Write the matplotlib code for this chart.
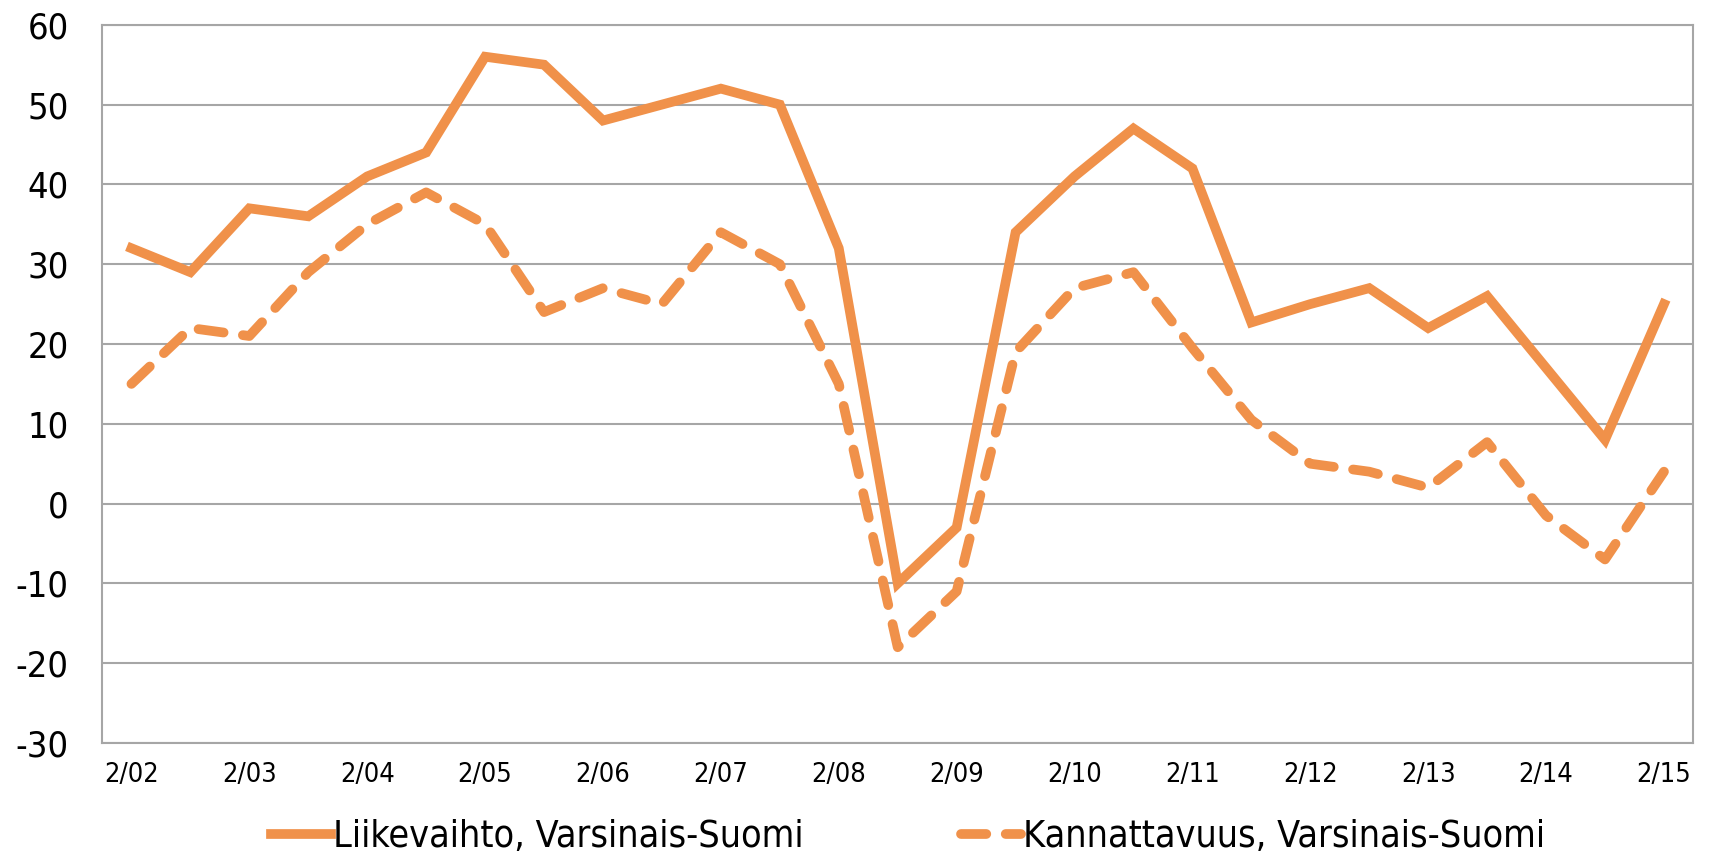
import matplotlib
matplotlib.use("Agg")
import matplotlib.pyplot as plt
from matplotlib import font_manager

# half-year observations 2/02 ... 2/15
periods = ["2/02", "8/02", "2/03", "8/03", "2/04", "8/04", "2/05", "8/05",
           "2/06", "8/06", "2/07", "8/07", "2/08", "8/08", "2/09", "8/09",
           "2/10", "8/10", "2/11", "8/11", "2/12", "8/12", "2/13", "8/13",
           "2/14", "8/14", "2/15"]
liikevaihto = [32, 29, 37, 36, 41, 44, 56, 55, 48, 50, 52, 50, 32, -10, -3, 34,
               41, 47, 42, 22.7, 25, 27, 22, 26, 17, 8, 25]
kannattavuus = [15, 22, 21, 29, 35, 39, 35, 24, 27, 25, 34, 30, 15, -18, -11, 19,
                27, 29, 19.5, 10.5, 5, 4, 2, 7.7, -1.5, -7, 4]
yticks = [-30, -20, -10, 0, 10, 20, 30, 40, 50, 60]

# narrow font if one is there
cond = [f for f in font_manager.fontManager.ttflist if 'ondensed' in f.fname or 'Narrow' in f.name]
plt.rcParams['font.family'] = ['DejaVu Sans']
if cond:
    plt.rcParams['font.stretch'] = 'condensed'

orange = "#F0914A"
grid_col = "#A6A6A6"

fig = plt.figure(figsize=(17.14, 8.55), dpi=100)
ax = fig.add_axes([0.0595, 0.131, 0.9285, 0.84])

x = list(range(len(periods)))
ax.plot(x, liikevaihto, color=orange, lw=7, solid_joinstyle='miter',
        label="Liikevaihto, Varsinais-Suomi")
ax.plot(x, kannattavuus, color=orange, lw=7, dashes=(2.6, 2.0), dash_capstyle='round',
        label="Kannattavuus, Varsinais-Suomi")

ax.set_xlim(-0.5, len(periods) - 0.5)
ax.set_ylim(-30, 60)
ax.set_yticks(yticks)
ax.set_yticklabels([str(v) for v in yticks], fontsize=26)
ax.set_xticks(x[::2])
ax.set_xticklabels(periods[::2], fontsize=19.5)
ax.tick_params(axis='both', length=0)
ax.tick_params(axis='y', pad=24)
ax.tick_params(axis='x', pad=14)
ax.grid(axis='y', color=grid_col, lw=1.5)
ax.set_axisbelow(True)
for s in ax.spines.values():
    s.set_color(grid_col)
    s.set_linewidth(1.5)

fig.legend(loc='lower center', ncol=2, frameon=False, fontsize=27,
           handlelength=1.6, handletextpad=0.05, columnspacing=4.2,
           bbox_to_anchor=(0.53, -0.04))

fig.savefig("out.png", dpi=100)
